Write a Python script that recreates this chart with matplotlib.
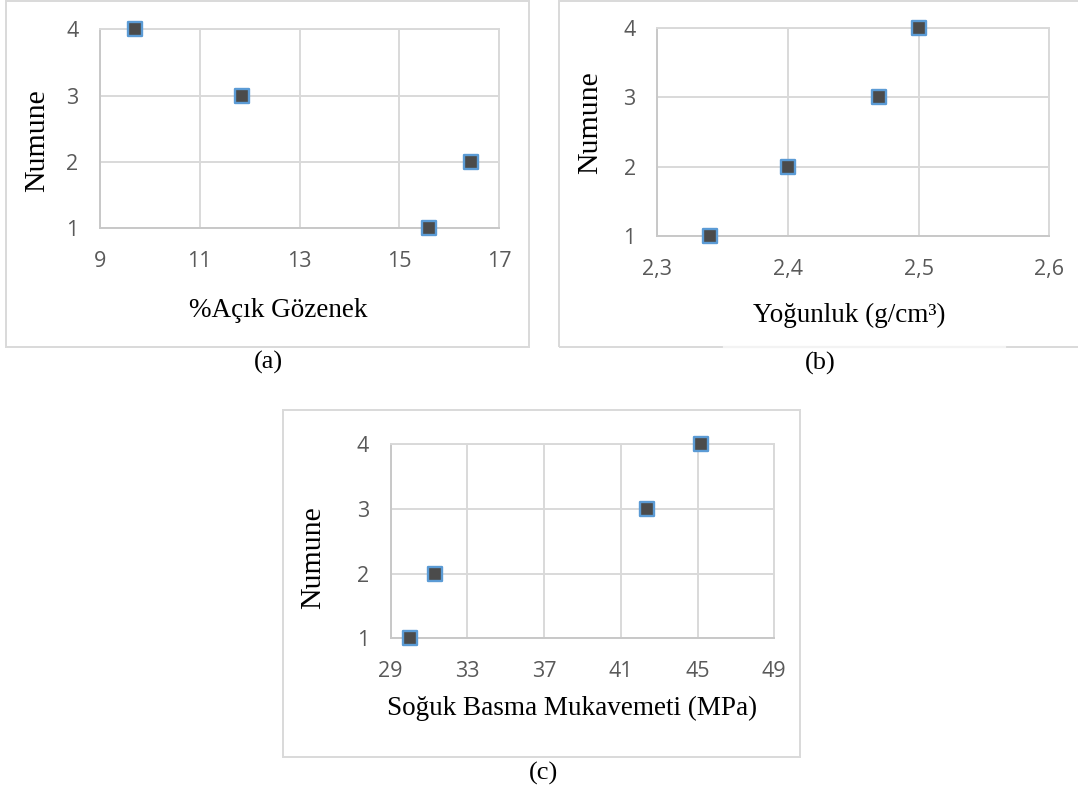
import matplotlib
matplotlib.use("Agg")
import matplotlib.pyplot as plt
from matplotlib.patches import Rectangle
from matplotlib.lines import Line2D

# ---- data ----
numune = [1, 2, 3, 4]
acik_gozenek = [15.6, 16.43, 11.85, 9.7]
yogunluk = [2.34, 2.40, 2.47, 2.50]
sbm = [30.0, 31.3, 42.35, 45.2]

xticks_a = [9, 11, 13, 15, 17]
xticks_b = [2.3, 2.4, 2.5, 2.6]
xticklabels_b = ["2,3", "2,4", "2,5", "2,6"]
xticks_c = [29, 33, 37, 41, 45, 49]
yticks = [1, 2, 3, 4]

W, H = 1078, 792
fig = plt.figure(figsize=(W / 100, H / 100), dpi=100)
fig.patch.set_facecolor("white")

GRID = "#d9d9d9"
AXLINE = "#c8c8c8"
TICKC = "#595959"
SERIF = "Liberation Serif"
SANS = "Open Sans"


def px_axes(l, t, r, b):
    return fig.add_axes([l / W, 1 - b / H, (r - l) / W, (b - t) / H])


def frame(l, t, r, b, color=GRID):
    fig.patches.append(Rectangle((l / W, 1 - b / H), (r - l) / W, (b - t) / H,
                                 transform=fig.transFigure, fill=False,
                                 edgecolor=color, linewidth=1.4, zorder=0))


def hline(x0, x1, y, color):
    fig.lines.append(Line2D([x0 / W, x1 / W], [1 - y / H, 1 - y / H],
                            transform=fig.transFigure, color=color,
                            linewidth=1.6, zorder=1))


def panel(box, xs, xlim, xt, xtl, xlabel, xlab_px, ylab_px, caption, cap_px):
    l, t, r, b = box
    ax = px_axes(l, t, r, b)
    ax.scatter(xs, numune, marker="s", s=95, facecolor="#4b4b4b",
               edgecolor="#5b9bd5", linewidth=1.7, zorder=3, clip_on=False)
    ax.set_xlim(*xlim)
    ax.set_ylim(1, 4)
    ax.set_xticks(xt)
    ax.set_xticklabels(xtl)
    ax.set_yticks(yticks)
    ax.grid(True, color=GRID, linewidth=1.4)
    ax.set_axisbelow(True)
    for name, s in ax.spines.items():
        s.set_color(AXLINE if name in ("left", "bottom") else GRID)
        s.set_linewidth(1.4)
    ax.tick_params(axis="both", length=0, labelcolor=TICKC, labelsize=15.5)
    ax.tick_params(axis="x", pad=16.5)
    ax.tick_params(axis="y", pad=15.5)
    for lab in ax.get_xticklabels() + ax.get_yticklabels():
        lab.set_fontfamily(SANS)
    ax.set_xlabel(xlabel, fontfamily=SERIF, fontsize=19.5, color="black")
    ax.set_ylabel("Numune", fontfamily=SERIF, fontsize=21.5, color="black")
    ax.xaxis.label.set_va("center")
    ax.yaxis.label.set_va("center")
    ax.xaxis.set_label_coords((xlab_px[0] - l) / (r - l), (b - xlab_px[1]) / (b - t))
    ax.yaxis.set_label_coords((ylab_px[0] - l) / (r - l), (b - ylab_px[1]) / (b - t))
    fig.text(cap_px[0] / W, 1 - cap_px[1] / H, caption, fontfamily=SERIF,
             fontsize=19, ha="center", va="center", color="black")
    return ax


# outer chart frames
frame(6, 1, 528.5, 346.7)
frame(559, 1, 1090, 346.7)
hline(724, 1005, 346.7, "#f3f3f3")
frame(283, 410, 800, 757)

panel((100, 29.3, 499, 228.3), acik_gozenek, (9, 17), xticks_a,
      [str(v) for v in xticks_a], "%Açık Gözenek", (278, 310), (37, 141),
      "(a)", (268, 362))
panel((657.3, 27.7, 1049.3, 236), yogunluk, (2.3, 2.6), xticks_b,
      xticklabels_b, "Yoğunluk (g/cm³)", (849, 315), (590, 122.5),
      "(b)", (820, 363))
panel((390.7, 444.3, 774.3, 638.3), sbm, (29, 49), xticks_c,
      [str(v) for v in xticks_c], "Soğuk Basma Mukavemeti (MPa)", (572, 708),
      (313, 558), "(c)", (544, 773))

fig.savefig("out.png", dpi=100, facecolor="white")
